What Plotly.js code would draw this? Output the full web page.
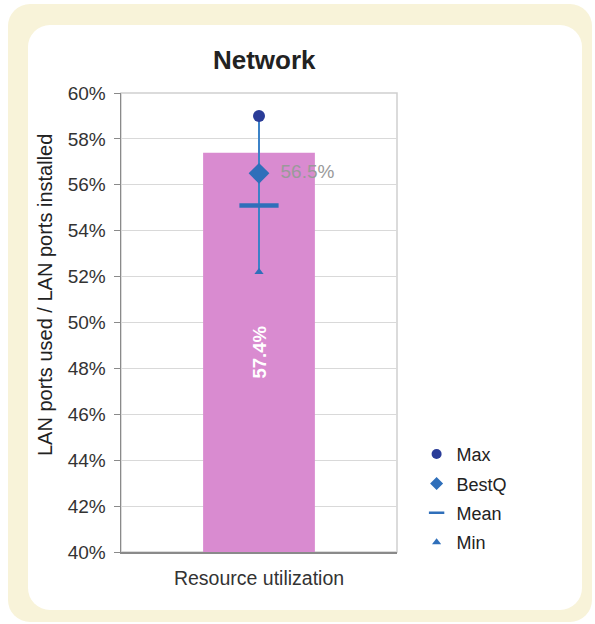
<!DOCTYPE html>
<html>
<head>
<meta charset="utf-8">
<script src="https://cdn.plot.ly/plotly-3.0.1.min.js"></script>
<style>
  html, body { margin: 0; padding: 0; background: #ffffff; width: 595px; height: 624px; overflow: hidden; }
  #outer { position: absolute; left: 8px; top: 4px; width: 584px; height: 618px; border-radius: 22px; background: #f8f3d9; }
  #inner { position: absolute; left: 28px; top: 25px; width: 554px; height: 585px; border-radius: 22px; background: #ffffff; }
  #chart { position: absolute; left: 0; top: 0; width: 595px; height: 624px; }
</style>
</head>
<body>
<div id="outer"></div>
<div id="inner"></div>
<div id="chart"></div>
<script>
// ---- data ----
const categories = ['Resource utilization'];
const resourceUtil = [57.4];
const maxVals = [59.0];
const bestQVals = [56.5];
const meanVals = [55.1];
const minVals = [52.2];
const yTickVals = [40, 42, 44, 46, 48, 50, 52, 54, 56, 58, 60];
const yRange = [40, 60];
const yTitle = 'LAN ports used / LAN ports installed';

const FONT = 'Liberation Sans, Arial, sans-serif';
const pct = v => v.toFixed(1) + '%';
const NB = '\u00a0';

const traces = [
  {
    // bar drawn from the axis floor (as in the original chart) up to its value
    type: 'bar', x: categories, base: yRange[0], y: resourceUtil.map(v => v - yRange[0]),
    width: 0.405,
    marker: { color: '#d98bd0' },
    text: resourceUtil.map(pct), textposition: 'inside', insidetextanchor: 'middle',
    textangle: -90,
    textfont: { color: '#ffffff', size: 18.5, family: FONT, weight: 'bold' },
    showlegend: false, hoverinfo: 'skip'
  },
  {
    type: 'scatter', mode: 'lines',
    x: [categories[0], categories[0]], y: [minVals[0], maxVals[0]],
    line: { color: '#3c82c8', width: 2 },
    showlegend: false, hoverinfo: 'skip'
  },
  {
    type: 'scatter', mode: 'markers', name: 'Max', x: categories, y: maxVals,
    marker: { symbol: 'circle', size: 12, color: '#2a3c98' }, showlegend: false
  },
  {
    type: 'scatter', mode: 'markers+text', name: 'BestQ', x: categories, y: bestQVals,
    marker: { symbol: 'diamond', size: 16, color: '#2f6fba' },
    text: bestQVals.map(v => NB + NB + pct(v)), textposition: 'middle right',
    textfont: { color: '#9a9a9a', size: 19, family: FONT }, showlegend: false
  },
  {
    type: 'scatter', mode: 'markers', name: 'Mean', x: categories, y: meanVals,
    marker: { symbol: 'line-ew', size: 28, color: '#2f6fba', line: { color: '#2f6fba', width: 4.5 } },
    showlegend: false
  },
  {
    type: 'scatter', mode: 'markers', name: 'Min', x: categories, y: minVals,
    marker: { symbol: 'triangle-up', size: 8, color: '#2f6fba' }, showlegend: false
  },
  // legend entries (legend-sized symbols)
  { type: 'scatter', mode: 'markers', name: 'Max', x: [null], y: [null], legendgroup: 'a',
    marker: { symbol: 'circle', size: 10, color: '#2a3c98' } },
  { type: 'scatter', mode: 'markers', name: 'BestQ', x: [null], y: [null], legendgroup: 'b',
    marker: { symbol: 'diamond', size: 10, color: '#2f6fba' } },
  { type: 'scatter', mode: 'markers', name: 'Mean', x: [null], y: [null], legendgroup: 'c',
    marker: { symbol: 'line-ew', size: 11, color: '#2f6fba', line: { color: '#2f6fba', width: 2.5 } } },
  { type: 'scatter', mode: 'markers', name: 'Min', x: [null], y: [null], legendgroup: 'd',
    marker: { symbol: 'triangle-up', size: 8, color: '#2f6fba' } }
];

const layout = {
  width: 595, height: 624,
  margin: { l: 121, r: 198, t: 93, b: 72 },
  paper_bgcolor: 'rgba(0,0,0,0)',
  plot_bgcolor: '#ffffff',
  font: { family: FONT, color: '#333333', size: 18 },
  title: {
    text: '<b>Network</b>', font: { size: 26, color: '#222222', family: FONT },
    x: 0.444, xref: 'container', xanchor: 'center', y: 0.904, yref: 'container', yanchor: 'middle'
  },
  xaxis: {
    type: 'category', range: [-0.5, 0.5],
    showgrid: false, showline: true, linecolor: '#8a8a8a', linewidth: 1.5,
    ticks: '', tickfont: { size: 19.5, color: '#333333' }, ticklabelstandoff: 8, fixedrange: true
  },
  yaxis: {
    range: yRange, tickvals: yTickVals, ticktext: yTickVals.map(v => v + '%'),
    showgrid: true, gridcolor: '#d9d9d9', gridwidth: 1,
    showline: true, linecolor: '#8a8a8a', linewidth: 1.5,
    ticks: 'outside', ticklen: 6, tickcolor: '#8a8a8a',
    tickfont: { size: 19, color: '#333333' }, ticklabelstandoff: 4,
    zeroline: false, fixedrange: true
  },
  annotations: [
    { text: yTitle, xref: 'paper', yref: 'paper', x: -0.275, y: 0.56,
      xanchor: 'center', yanchor: 'middle', textangle: -90, showarrow: false,
      font: { size: 20, color: '#222222', family: FONT } }
  ],
  shapes: [
    { type: 'rect', xref: 'paper', yref: 'paper', x0: 0, x1: 1, y0: 0, y1: 1,
      line: { color: '#d0d0d0', width: 1.5 }, fillcolor: 'rgba(0,0,0,0)', layer: 'below' }
  ],
  legend: {
    x: 1.071, y: 0.253, xanchor: 'left', yanchor: 'top',
    font: { size: 18, color: '#222222' },
    traceorder: 'grouped', tracegroupgap: 3, itemwidth: 30,
    bgcolor: 'rgba(0,0,0,0)'
  },
  showlegend: true,
  hovermode: false
};

Plotly.newPlot('chart', traces, layout, { displayModeBar: false, staticPlot: true });
</script>
</body>
</html>
